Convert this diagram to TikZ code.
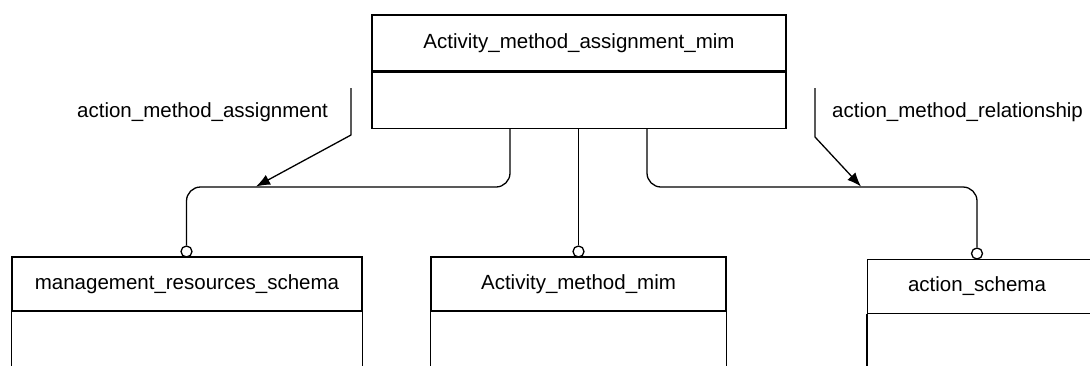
\documentclass[tikz,border=0pt]{standalone}
\usepackage{fontspec}
\setmainfont{Liberation Sans}
\usetikzlibrary{arrows.meta}
\begin{document}
\begin{tikzpicture}[x=1pt,y=-1pt,
  ln/.style={line width=1.3pt,black},
  title/.style={draw,ln,rectangle,inner sep=0pt,font=\fontsize{20.5}{24}\selectfont},
  ring/.style={circle,draw,ln,fill=white,inner sep=0pt,minimum size=11pt},
  lbl/.style={inner sep=0pt,anchor=west,font=\fontsize{20.5}{24}\selectfont},
  arr/.style={ln,-{Latex[length=14pt,width=11pt]}}]
\useasboundingbox (0,0) rectangle (1090,365);
\clip (0,0) rectangle (1090,365);
% top class
\node[title,minimum width=414pt,minimum height=56pt] (toptitle) at (579,43) {Activity\_method\_assignment\_mim};
\node[title,minimum width=414pt,minimum height=56pt,anchor=north] (topbody) at (toptitle.south) {};
% bottom classes
\node[title,minimum width=350pt,minimum height=54pt] (mrs) at (187,284) {management\_resources\_schema};
\draw[ln] (mrs.south west) -- ++(0,60) (mrs.south east) -- ++(0,60);
\node[title,minimum width=295pt,minimum height=54pt] (amm) at (578.5,284) {Activity\_method\_mim};
\draw[ln] (amm.south west) -- ++(0,60) (amm.south east) -- ++(0,60);
\node[title,minimum width=240pt,minimum height=54pt,anchor=north west] (as) at (867,259) {};
\node[font=\fontsize{20.5}{24}\selectfont] (astext) at (977,286) {action\_schema};
\draw[ln] (as.south west) -- ++(0,60);
% rings
\node[ring] (r1) at (186.5,251.5) {};
\node[ring] (r2) at (578.5,251.5) {};
\node[ring] (r3) at (977,253.5) {};
% connectors
\draw[ln,rounded corners=14pt] (topbody.south -| 510,0) -- (510,187) -- (186.5,187) -- (r1.north);
\draw[ln] (topbody.south -| r2) -- (r2.north);
\draw[ln,rounded corners=14pt] (topbody.south -| 647,0) -- (647,187) -- (977,187) -- (r3.north);
% annotations
\node[lbl] (l1) at (77,112) {action\_method\_assignment};
\node[lbl] (l2) at (832,112) {action\_method\_relationship};
\coordinate (a1s) at (351,88);
\coordinate (a1e) at (256,186.5);
\coordinate (a2s) at (815,88);
\coordinate (a2e) at (861,186.5);
\draw[arr] (a1s) -- (351,135) -- (a1e);
\draw[arr] (a2s) -- (815,137) -- (a2e);
\end{tikzpicture}
\end{document}
